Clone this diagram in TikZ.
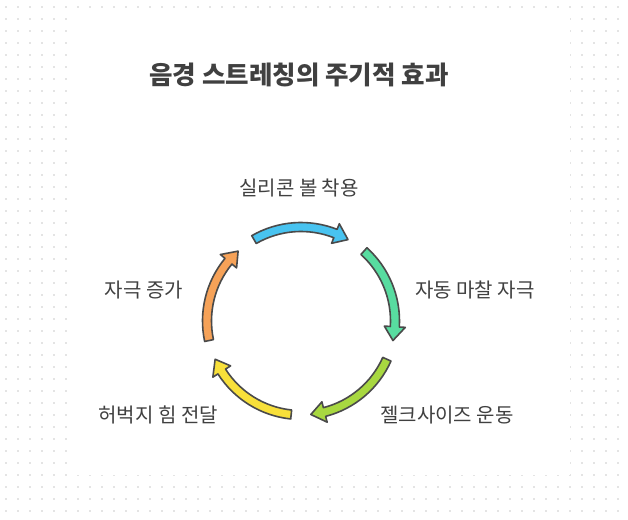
\documentclass[tikz,border=0pt]{standalone}
\usepackage{fontspec}
\setmainfont{Noto Sans CJK KR}

\definecolor{texte}{HTML}{404040}
\definecolor{contour}{HTML}{4A4A4A}
\definecolor{points}{HTML}{E4E4E4}
\definecolor{cBleu}{HTML}{48C3F0}
\definecolor{cVert}{HTML}{58DCA0}
\definecolor{cLime}{HTML}{A8D840}
\definecolor{cJaune}{HTML}{F8E03A}
\definecolor{cOrange}{HTML}{F6A258}

\tikzset{
  etiq/.style={text=texte, inner sep=0pt, font=\fontsize{20}{24}\selectfont},
  fleche/.style={draw=contour, line width=1.6pt, line join=round}
}

\begin{document}
\begin{tikzpicture}[x=1pt,y=1pt]
\useasboundingbox (0,0) rectangle (628,519);

% Fond pointille
\fill[white] (0,0) rectangle (628,519);
\foreach \i in {0,...,52}
  \foreach \j in {0,...,43}
    \fill[points] (5+12*\i, 511-12*\j) rectangle ++(2,2);
\fill[white] (66.5,44) rectangle (569.5,511);

% Titre
\node[text=texte, font=\bfseries\fontsize{25.5}{30}\selectfont] (titre) at (299,444) {음경 스트레칭의 주기적 효과};

% Cycle des fleches
\def\R{94}
\def\w{4.5}
\def\hw{10.5}
\def\hl{8.5}
\begin{scope}[shift={(301,198)}]
\foreach \deb/\col in {120/cBleu, 48/cVert, -24/cLime, -96/cJaune, -168/cOrange}{
  \pgfmathsetmacro\fin{\deb-60}
  \pgfmathsetmacro\base{\fin+\hl}
  \draw[fleche, fill=\col]
    (\deb:\R+\w) arc[start angle=\deb, end angle=\base, radius=\R+\w]
    -- (\base:\R+\hw) -- (\fin:\R) -- (\base:\R-\hw) -- (\base:\R-\w)
    arc[start angle=\base, end angle=\deb, radius=\R-\w] -- cycle;
}
\end{scope}

% Etapes
\node[etiq] (balle) at (299,331) {실리콘 볼 착용};
\node[etiq, anchor=west] (friction) at (415,229) {자동 마찰 자극};
\node[etiq, anchor=west] (exercice) at (380,104) {젤크사이즈 운동};
\node[etiq, anchor=east] (cuisse) at (218,104) {허벅지 힘 전달};
\node[etiq, anchor=east] (stimul) at (183,229) {자극 증가};

\end{tikzpicture}
\end{document}
